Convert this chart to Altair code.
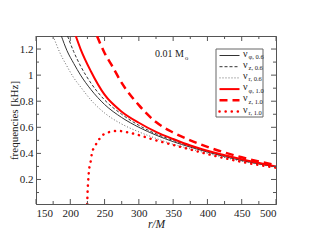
import altair as alt
import pandas as pd

# ---- data ----
r_phi06 = [187, 195, 205, 215, 230, 250, 275, 300, 325, 350, 375, 400, 450, 500]
v_phi06 = [1.30, 1.19, 1.09, 1.00, 0.89, 0.775, 0.675, 0.60, 0.54, 0.49, 0.448, 0.41, 0.345, 0.297]

r_z06 = [196, 205, 215, 230, 250, 275, 300, 325, 350, 375, 400, 450, 500]
v_z06 = [1.30, 1.18, 1.07, 0.94, 0.81, 0.70, 0.615, 0.55, 0.50, 0.455, 0.415, 0.35, 0.30]

r_r06 = [175, 185, 195, 205, 215, 230, 250, 275, 300, 325, 350, 375, 400, 450, 500]
v_r06 = [1.30, 1.17, 1.07, 0.98, 0.91, 0.81, 0.71, 0.625, 0.565, 0.515, 0.47, 0.435, 0.40, 0.34, 0.293]

r_phi10 = [208, 215, 230, 250, 275, 300, 325, 350, 375, 400, 450, 500]
v_phi10 = [1.30, 1.20, 1.03, 0.85, 0.72, 0.635, 0.565, 0.51, 0.46, 0.42, 0.355, 0.30]

r_z10 = [239, 250, 260, 275, 300, 325, 350, 375, 400, 450, 500]
v_z10 = [1.30, 1.17, 1.08, 0.94, 0.77, 0.64, 0.56, 0.50, 0.45, 0.37, 0.31]

r_r10 = [224.7, 225.2, 226, 227.3, 229.5, 231.5, 236, 241, 248, 260, 270, 285, 300, 325, 350, 375, 400, 450, 500]
v_r10 = [0.012, 0.10, 0.18, 0.27, 0.33, 0.40, 0.455, 0.50, 0.543, 0.567, 0.572, 0.56, 0.54, 0.50, 0.465, 0.43, 0.395, 0.335, 0.29]

x_major = [150, 200, 250, 300, 350, 400, 450, 500]
x_minor = [175, 225, 275, 325, 375, 425, 475]
y_major = [0.2, 0.4, 0.6, 0.8, 1.0, 1.2]
y_minor = [0.1, 0.3, 0.5, 0.7, 0.9, 1.1]

legend_main = ["ν"] * 6
legend_sub = ["φ, 0.6", "z, 0.6", "r, 0.6", "φ, 1.0", "z, 1.0", "r, 1.0"]

W, H = 240, 168
FONT = "Liberation Serif, Times New Roman, serif"
xs = alt.Scale(domain=[150, 500], nice=False, zero=False)
ys = alt.Scale(domain=[0.012, 1.3], nice=False, zero=False)

xaxis = alt.Axis(values=x_major, ticks=False, grid=False, labelFont=FONT, labelFontSize=11,
                 labelColor="#222", labelPadding=3, domainColor="#555", title="r/M",
                 titleFont=FONT, titleFontStyle="italic", titleFontWeight="normal",
                 titleFontSize=11.5, titlePadding=0, titleColor="#222")
yaxis = alt.Axis(values=y_major, format="~g", ticks=False, grid=False, labelFont=FONT,
                 labelFontSize=11, labelColor="#222", labelPadding=3, domainColor="#555",
                 title="frequencies [kHz]", titleFont=FONT, titleFontWeight="normal",
                 titleFontSize=11, titlePadding=0, titleColor="#222")


def X(field):
    return alt.X(field, scale=xs, axis=xaxis, title="r/M")


def Y(field):
    return alt.Y(field, scale=ys, axis=yaxis, title="frequencies [kHz]")


def line(rs, vs, color, width, dash=None, cap="butt"):
    df = pd.DataFrame({"r": rs, "v": vs})
    kw = dict(color=color, strokeWidth=width, interpolate="monotone", clip=True, strokeCap=cap)
    if dash:
        kw["strokeDash"] = dash
    return alt.Chart(df).mark_line(**kw).encode(x=X("r:Q"), y=Y("v:Q"))


layers = [
    line(r_r06, v_r06, "#666", 1, [1, 2]),
    line(r_phi06, v_phi06, "#333", 1),
    line(r_z06, v_z06, "#333", 1, [3, 2]),
    line(r_phi10, v_phi10, "#ff0000", 2),
    line(r_z10, v_z10, "#ff0000", 2.5, [8, 5]),
    line(r_r10, v_r10, "#ff0000", 2.5, [0.1, 6], cap="round"),
]

# inward ticks
dxm = pd.DataFrame({"r": x_major})
dxn = pd.DataFrame({"r": x_minor})
dym = pd.DataFrame({"v": y_major})
dyn = pd.DataFrame({"v": y_minor})
tk = dict(color="#555", strokeWidth=1)
for d, L in [(dxm, 5), (dxn, 3)]:
    layers.append(alt.Chart(d).mark_rule(**tk).encode(
        x=X("r:Q"), y=alt.value(H), y2=alt.value(H - L)))
    layers.append(alt.Chart(d).mark_rule(**tk).encode(
        x=X("r:Q"), y=alt.value(0), y2=alt.value(L)))
for d, L in [(dym, 5), (dyn, 3)]:
    layers.append(alt.Chart(d).mark_rule(**tk).encode(
        y=Y("v:Q"), x=alt.value(0), x2=alt.value(L)))
    layers.append(alt.Chart(d).mark_rule(**tk).encode(
        y=Y("v:Q"), x=alt.value(W), x2=alt.value(W - L)))

one = pd.DataFrame({"a": [0]})
# annotation 0.01 M_sun
layers.append(alt.Chart(one).mark_text(font=FONT, fontSize=10, align="left", baseline="alphabetic",
                                       color="#222").encode(
    x=alt.value(119), y=alt.value(21), text=alt.value("0.01 M")))
layers.append(alt.Chart(one).mark_text(font=FONT, fontSize=6.5, align="left", baseline="alphabetic",
                                       color="#222").encode(
    x=alt.value(149), y=alt.value(24), text=alt.value("o")))

# legend box
layers.append(alt.Chart(one).mark_rect(fill="white", stroke="#666", strokeWidth=1).encode(
    x=alt.value(180), x2=alt.value(227), y=alt.value(13), y2=alt.value(81)))
leg_y = [19.5, 30.7, 41.9, 53.1, 64.3, 75.5]
leg_style = [
    dict(color="#333", strokeWidth=1),
    dict(color="#333", strokeWidth=1, strokeDash=[3, 2]),
    dict(color="#666", strokeWidth=1, strokeDash=[1, 2]),
    dict(color="#ff0000", strokeWidth=2),
    dict(color="#ff0000", strokeWidth=2.5, strokeDash=[8, 5]),
    dict(color="#ff0000", strokeWidth=2.5, strokeDash=[0.1, 6], strokeCap="round"),
]
for i, yy in enumerate(leg_y):
    st = leg_style[i]
    layers.append(alt.Chart(one).mark_rule(**st).encode(
        x=alt.value(183.5), x2=alt.value(203.5), y=alt.value(yy)))
    layers.append(alt.Chart(one).mark_text(font=FONT, fontSize=10, align="left", baseline="alphabetic",
                                           color="#222").encode(
        x=alt.value(207), y=alt.value(yy + 1), text=alt.value(legend_main[i])))
    layers.append(alt.Chart(one).mark_text(font=FONT, fontSize=6.5, align="left", baseline="alphabetic",
                                           color="#222").encode(
        x=alt.value(212.5), y=alt.value(yy + 3.5), text=alt.value(legend_sub[i])))

chart = alt.layer(*layers).properties(
    width=W, height=H,
    autosize=alt.AutoSizeParams(type="none"),
    padding={"left": 28, "top": 28, "right": 20, "bottom": 30},
).configure_view(stroke="#555", strokeWidth=1)

chart.save("out.html", embed_options={"renderer": "svg", "actions": False})
